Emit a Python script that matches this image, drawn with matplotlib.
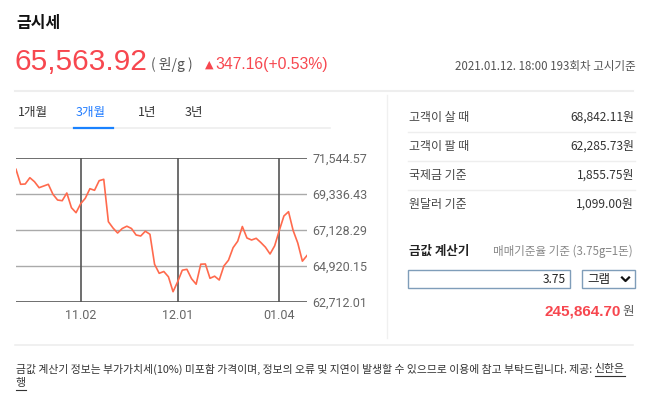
import matplotlib
matplotlib.use("Agg")
import matplotlib.pyplot as plt
from matplotlib.patches import Rectangle

plt.rcParams['font.family'] = ['Noto Sans CJK KR', 'DejaVu Sans']

# 3개월 금시세 (원/g), 영업일 기준
prices = [70851, 69931, 69950, 70336, 70091, 69723, 69827, 69931, 69318, 68968,
          68925, 69398, 68496, 68189, 68741, 69073, 69662, 69563, 70152, 70238,
          67637, 67251, 66944, 67220, 67361, 67220, 66822, 66760, 67055, 66865,
          65024, 64472, 64583, 64258, 63344, 63957, 64663, 64718, 64141, 63804,
          65031, 65043, 64166, 64295, 64061, 64920, 65276, 66043, 66441, 67343,
          66638, 66515, 66619, 66362, 66073, 65656, 66159, 67098, 67987, 68251,
          67098, 66331, 65217, 65563.92]
date_ticks = [14, 35, 57]
date_labels = ["11.02", "12.01", "01.04"]
y_ticks = [62712.01, 64920.15, 67128.29, 69336.43, 71544.57]

tabs = ["1개월", "3개월", "1년", "3년"]
info_labels = ["고객이 살 때", "고객이 팔 때", "국제금 기준", "원달러 기준"]
info_values = ["68,842.11원", "62,285.73원", "1,855.75원", "1,099.00원"]

RED = "#f7474f"
W, H = 648, 394

fig = plt.figure(figsize=(W / 100, H / 100), dpi=100)

# overlay in pixel coords
ov = fig.add_axes([0, 0, 1, 1])
ov.set_xlim(0, W)
ov.set_ylim(H, 0)
ov.axis("off")

ov.text(16, 23, "금시세", fontsize=11.5, fontweight="bold", color="#111", va="center")
ov.text(14, 70, "65,563.92", fontsize=21.5, color=RED, va="baseline",
        family=["Liberation Sans", "DejaVu Sans"])
ov.text(151, 69, "( 원/g )", fontsize=10, color="#555", va="baseline")
ov.text(205, 68, "▲", fontsize=8, color=RED, va="baseline", family=["DejaVu Sans"])
ov.text(215, 69, "347.16(+0.53%)", fontsize=11.3, color=RED, va="baseline",
        family=["Liberation Sans", "DejaVu Sans"])
ov.text(636, 66, "2021.01.12. 18:00 193회차 고시기준", fontsize=8.3, color="#555",
        ha="right", va="center")

ov.plot([15, 633], [91, 91], color="#eeeeee", lw=1.5)

tab_x = [18, 76, 138, 185]
for t, x in zip(tabs, tab_x):
    c = "#1f7bff" if t == "3개월" else "#333"
    ov.text(x, 112, t, fontsize=9, color=c, va="center")
ov.plot([15, 330], [128, 128], color="#eeeeee", lw=1.2)
ov.plot([74, 113], [128, 128], color="#1a82ff", lw=1.6)

# right panel
ov.plot([387, 387], [95, 338], color="#f0f0f0", lw=1)
for i, (lab, val) in enumerate(zip(info_labels, info_values)):
    y = 117 + i * 29
    ov.text(409, y, lab, fontsize=8.6, color="#444", va="center")
    ov.text(634, y, val, fontsize=8.6, color="#333", va="center", ha="right")
    if i < 3:
        ov.plot([408, 635], [y + 14.5, y + 14.5], color="#eeeeee", lw=1)

ov.text(409, 251, "금값 계산기", fontsize=9, fontweight="bold", color="#222", va="center")
ov.text(493, 251, "매매기준율 기준 (3.75g=1돈)", fontsize=8.3, color="#888", va="center")
ov.add_patch(Rectangle((408, 270), 162, 18, fill=False, ec="#7f9db9", lw=1))
ov.text(566, 279.5, "3.75", fontsize=8.6, color="#222", va="center", ha="right")
ov.add_patch(Rectangle((582, 270), 53, 18, fill=False, ec="#7f9db9", lw=1))
ov.text(587, 279.5, "그램", fontsize=9, color="#222", va="center")
ov.plot([622, 625.5, 629], [277.5, 281, 277.5], color="#111", lw=1.6)
ov.text(621, 312, "245,864.70", fontsize=11, fontweight="bold", color=RED,
        va="center", ha="right", family=["Liberation Sans", "DejaVu Sans"])
ov.text(622, 312, "원", fontsize=9, color="#555", va="center")

ov.plot([15, 633], [345, 345], color="#eeeeee", lw=1.2)
note = ov.text(16, 369, "금값 계산기 정보는 부가가치세(10%) 미포함 가격이며, 정보의 오류 및 지연이 "
               "발생할 수 있으므로 이용에 참고 부탁드립니다. 제공: ", fontsize=7.8,
               color="#333", va="center")
fig.canvas.draw()
r = fig.canvas.get_renderer()
bb = note.get_window_extent(r)
nx = bb.x1  # display px == pixel coords here (x axis not flipped)
link1 = ov.text(nx, 369, "신한은", fontsize=7.8, color="#333", va="center")
link2 = ov.text(16, 383, "행", fontsize=7.8, color="#333", va="center")
fig.canvas.draw()
for lk, yy in ((link1, 375.5), (link2, 389.5)):
    b = lk.get_window_extent(r)
    ov.plot([b.x0, b.x1], [yy, yy], color="#333", lw=0.8)

# chart
x0, x1, ytop, ybot = 16, 307, 158, 302
ax = fig.add_axes([x0 / W, 1 - ybot / H, (x1 - x0) / W, (ybot - ytop) / H])
ax.set_xlim(0, len(prices) - 1)
ax.set_ylim(y_ticks[0], y_ticks[-1])
for s in ax.spines.values():
    s.set_visible(False)
for i, v in enumerate(y_ticks):
    edge = i in (0, len(y_ticks) - 1)
    ax.axhline(v, color="#555" if edge else "#aaaaaa", lw=1.2 if edge else 1, zorder=1)
for t in date_ticks:
    ax.axvline(t, color="#555", lw=1.2, zorder=1)
ax.plot(range(len(prices)), prices, color="#ff6a4d", lw=1.2, zorder=3)
ax.yaxis.tick_right()
ax.set_yticks(y_ticks)
ax.set_yticklabels([f"{v:,.2f}" for v in y_ticks], family=["Roboto", "DejaVu Sans"],
                   fontsize=9, color="#666")
ax.tick_params(axis="y", length=0, pad=4)
ax.set_xticks(date_ticks)
ax.set_xticklabels(date_labels, family=["Roboto", "DejaVu Sans"], fontsize=9, color="#666")
ax.tick_params(axis="x", length=0, pad=5)

fig.savefig("out.png", dpi=100)
